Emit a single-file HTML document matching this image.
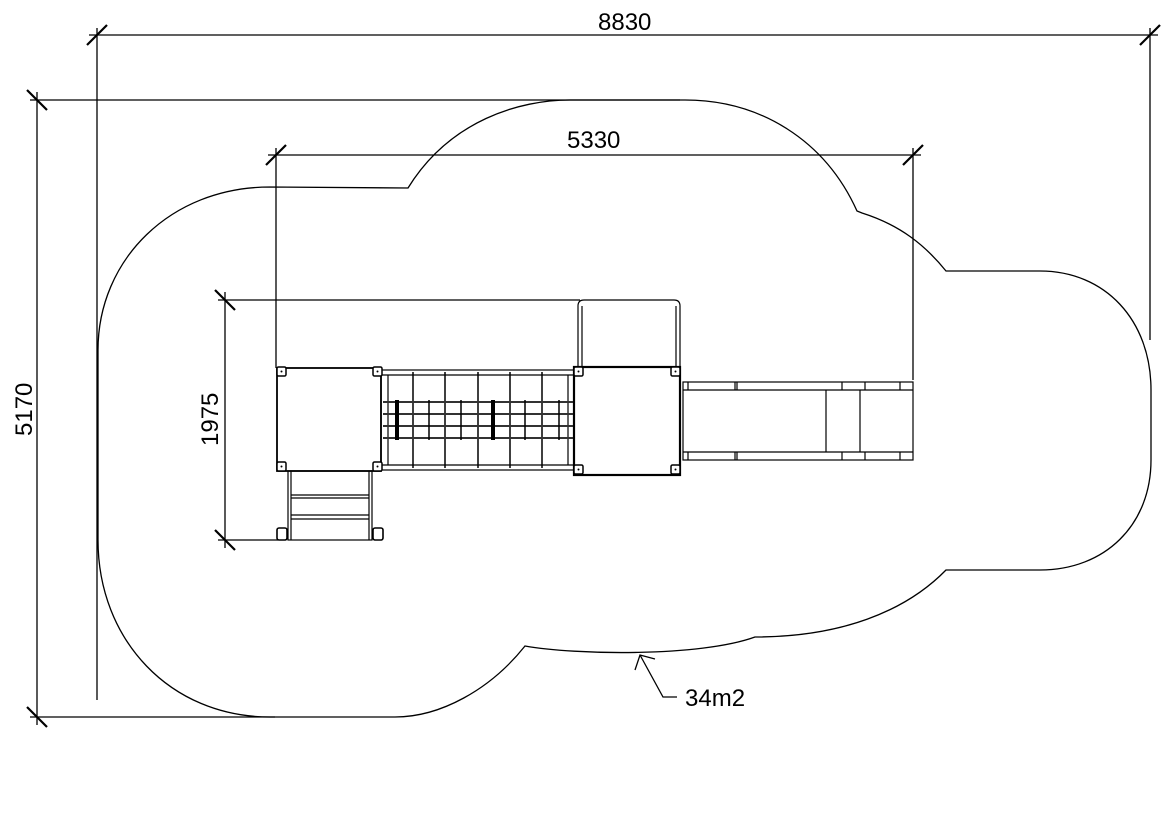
<!DOCTYPE html>
<html><head><meta charset="utf-8"><style>
html,body{margin:0;padding:0;background:#fff;}
svg{display:block;}
text{font-family:"Liberation Sans",Arial,sans-serif;font-size:24px;fill:#000;}
</style></head><body>
<svg width="1169" height="829" viewBox="0 0 1169 829" xmlns="http://www.w3.org/2000/svg">
<g fill="none" stroke="#000" stroke-width="1.3">
<!-- cloud -->
<path d="M270,187 L408,188 C450,120 520,100 570,100 L685,100 C760,100 825,140 857,211 L862,213 C900,225 925,245 946,271 L1040,271 C1105,271 1151,320 1151,390 L1151,460 C1151,525 1105,570 1040,570 L946,570 C905,612 840,637 755,637 C700,657 575,655 525,646 C490,690 440,717 395,717 L270,717 C170,717 98,640 98,540 L98,350 C98,260 170,187 270,187 Z"/>
<!-- 8830 dim -->
<line x1="89" y1="35" x2="1158" y2="35"/>
<line x1="97" y1="28" x2="97" y2="700"/>
<line x1="1150" y1="28" x2="1150" y2="340"/>
<!-- 5170 dim -->
<line x1="37" y1="92" x2="37" y2="725"/>
<line x1="30" y1="100" x2="680" y2="100"/>
<line x1="30" y1="717" x2="275" y2="717"/>
<!-- 5330 dim -->
<line x1="268" y1="155" x2="921" y2="155"/>
<line x1="276" y1="148" x2="276" y2="368"/>
<line x1="913" y1="148" x2="913" y2="380"/>
<!-- 1975 dim -->
<line x1="225" y1="292" x2="225" y2="548"/>
<line x1="218" y1="300" x2="580" y2="300"/>
<line x1="218" y1="540" x2="278" y2="540"/>
</g>
<g stroke="#000" stroke-width="2.2">
<line x1="87" y1="45" x2="107" y2="25"/>
<line x1="1140" y1="45" x2="1160" y2="25"/>
<line x1="266" y1="165" x2="286" y2="145"/>
<line x1="903" y1="165" x2="923" y2="145"/>
<line x1="27" y1="90" x2="47" y2="110"/>
<line x1="27" y1="707" x2="47" y2="727"/>
<line x1="215" y1="290" x2="235" y2="310"/>
<line x1="215" y1="530" x2="235" y2="550"/>
</g>
<!-- leader -->
<g fill="none" stroke="#000" stroke-width="1.3">
<polyline points="640,655 663,697 677,697"/>
<polyline points="635,670 640,655 655,659"/>
</g>
<text x="598" y="30">8830</text>
<text x="567" y="148">5330</text>
<text x="685" y="706">34m2</text>
<text transform="translate(32,436) rotate(-90)">5170</text>
<text transform="translate(218,446) rotate(-90)">1975</text>
<!-- structure -->
<g fill="none" stroke="#000" stroke-width="1.2">
<!-- upper rail -->
<path d="M578,367 L578,306 Q578,300 584,300 L674,300 Q680,300 680,306 L680,367"/>
<line x1="582" y1="306" x2="582" y2="367"/><line x1="676" y1="306" x2="676" y2="367"/>
<!-- left deck -->
<rect x="277" y="368" width="104" height="103" stroke-width="1.8"/>
<!-- right deck -->
<rect x="574" y="367" width="106" height="108" stroke-width="2.2"/>
<!-- bridge -->
<rect x="381" y="370" width="193" height="100"/>
<line x1="381" y1="375" x2="574" y2="375"/><line x1="381" y1="465" x2="574" y2="465"/>
<line x1="388" y1="375" x2="388" y2="465"/><line x1="568" y1="375" x2="568" y2="465"/>
<g stroke-width="1.5">
<line x1="413" y1="372" x2="413" y2="468"/><line x1="445" y1="372" x2="445" y2="468"/>
<line x1="478" y1="372" x2="478" y2="468"/><line x1="510" y1="372" x2="510" y2="468"/>
<line x1="542" y1="372" x2="542" y2="468"/>
</g>
<g stroke-width="2" stroke="#333">
<line x1="383" y1="402" x2="573" y2="402"/><line x1="383" y1="414" x2="573" y2="414"/>
<line x1="383" y1="426" x2="573" y2="426"/><line x1="383" y1="438" x2="573" y2="438"/>
</g>
<g stroke-width="1.5">
<line x1="429" y1="400" x2="429" y2="440"/><line x1="461" y1="400" x2="461" y2="440"/>
<line x1="525" y1="400" x2="525" y2="440"/><line x1="559" y1="400" x2="559" y2="440"/>
</g>
<line x1="397" y1="400" x2="397" y2="440" stroke-width="4"/>
<line x1="493" y1="400" x2="493" y2="440" stroke-width="4"/>
<!-- stairs -->
<rect x="288" y="471" width="84" height="69"/>
<line x1="291" y1="471" x2="291" y2="540"/><line x1="369" y1="471" x2="369" y2="540"/>
<line x1="291" y1="495" x2="369" y2="495"/><line x1="291" y1="498" x2="369" y2="498"/>
<line x1="291" y1="515" x2="369" y2="515"/><line x1="291" y1="519" x2="369" y2="519"/>
<rect x="277" y="528" width="10" height="12" rx="2" stroke-width="1.6"/>
<rect x="373" y="528" width="10" height="12" rx="2" stroke-width="1.6"/>
<!-- slide -->
<rect x="683" y="382" width="230" height="78"/>
<line x1="683" y1="390" x2="913" y2="390"/><line x1="683" y1="452" x2="913" y2="452"/>
<line x1="826" y1="390" x2="826" y2="452"/><line x1="860" y1="390" x2="860" y2="452"/>
<line x1="688" y1="382" x2="688" y2="390"/><line x1="735" y1="382" x2="735" y2="390"/><line x1="737" y1="382" x2="737" y2="390"/>
<line x1="842" y1="382" x2="842" y2="390"/><line x1="865" y1="382" x2="865" y2="390"/><line x1="900" y1="382" x2="900" y2="390"/>
<line x1="688" y1="452" x2="688" y2="460"/><line x1="735" y1="452" x2="735" y2="460"/><line x1="737" y1="452" x2="737" y2="460"/>
<line x1="842" y1="452" x2="842" y2="460"/><line x1="865" y1="452" x2="865" y2="460"/><line x1="900" y1="452" x2="900" y2="460"/>
</g>
<!-- posts -->
<g fill="#fff" stroke="#000" stroke-width="1.5">
<rect x="277" y="367" width="9" height="9" rx="1.5"/><rect x="373" y="367" width="9" height="9" rx="1.5"/>
<rect x="277" y="462" width="9" height="9" rx="1.5"/><rect x="373" y="462" width="9" height="9" rx="1.5"/>
<rect x="574" y="367" width="9" height="9" rx="1.5"/><rect x="671" y="367" width="9" height="9" rx="1.5"/>
<rect x="574" y="465" width="9" height="9" rx="1.5"/><rect x="671" y="465" width="9" height="9" rx="1.5"/>
</g>
<g fill="#000">
<circle cx="281.5" cy="371.5" r="1"/><circle cx="377.5" cy="371.5" r="1"/><circle cx="281.5" cy="466.5" r="1"/><circle cx="377.5" cy="466.5" r="1"/>
<circle cx="578.5" cy="371.5" r="1"/><circle cx="675.5" cy="371.5" r="1"/><circle cx="578.5" cy="469.5" r="1"/><circle cx="675.5" cy="469.5" r="1"/>
</g>
</svg>
</body></html>
